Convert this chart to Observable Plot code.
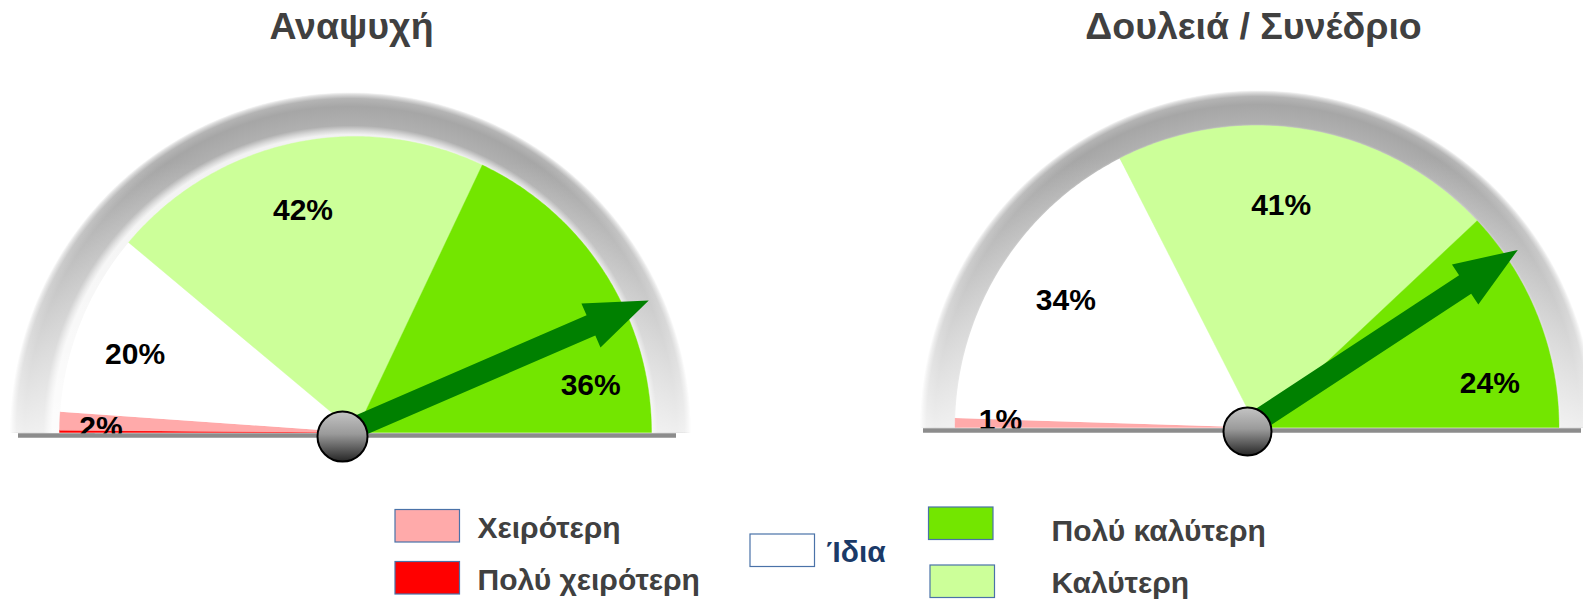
<!DOCTYPE html>
<html><head><meta charset="utf-8">
<script src="https://cdn.jsdelivr.net/npm/d3@7"></script>
<script src="https://cdn.jsdelivr.net/npm/@observablehq/plot@0.6"></script>
<style>html,body{margin:0;padding:0;background:#fff;overflow:hidden}svg{display:block}</style>
</head><body><div id="chart"></div>
<script>
// ---------------- data ----------------
const gaugeTitles = ["Αναψυχή", "Δουλειά / Συνέδριο"];
const categories = ["Πολύ χειρότερη", "Χειρότερη", "Ίδια", "Καλύτερη", "Πολύ καλύτερη"];
const categoryColors = ["#ff0000", "#ffaaaa", "#ffffff", "#ccff99", "#73e600"];
const leisureShares = [0.25, 2, 20, 42, 36];   // Αναψυχή, %
const workShares = [0, 1, 34, 41, 24];         // Δουλειά / Συνέδριο, %
const needlePositions = [87, 81.5];            // arrow position on the dial, % of the half circle
const legendOrder = ["Χειρότερη", "Πολύ χειρότερη", "Ίδια", "Πολύ καλύτερη", "Καλύτερη"];
const sharesByGauge = [leisureShares, workShares];

// ---------------- layout ----------------
const W = 1583, H = 600;
const FONT = "Liberation Sans, Arial, Helvetica, sans-serif";
const gaugeLayout = [
  {cx: 355, cy: 432, r: 296, ringCx: 350, ringR: 340, pivot: [342, 436, 25], base: [18, 676, 435],
   titleX: 351, needleOrigin: [-5, -3], needleLen: 325,
   // [position inside the wedge (0..1), radius fraction]
   labelPlace: [[0.5, 0.8], [0.18, 0.86], [0.43, 0.79], [0.487, 0.77], [0.826, 0.81]]},
  {cx: 1256.5, cy: 427, r: 302, ringCx: 1257, ringR: 337, pivot: [1247, 431, 24], base: [923, 1581, 430],
   titleX: 1253, needleOrigin: [-5, -3], needleLen: 318,
   labelPlace: [[0.5, 0.8], [0.9, 0.85], [0.52, 0.76], [0.45, 0.74], [0.75, 0.785]]}
];
const legendSlots = {
  "Χειρότερη":      {x: 395,   y: 509.5, tx: 477,  ty: 537},
  "Πολύ χειρότερη": {x: 395,   y: 561.5, tx: 477,  ty: 589},
  "Ίδια":           {x: 750,   y: 534,   tx: 826,  ty: 561, textColor: "#1a3a68"},
  "Πολύ καλύτερη":  {x: 928.5, y: 507,   tx: 1051, ty: 540},
  "Καλύτερη":       {x: 930,   y: 565,   tx: 1051, ty: 592}
};
const swatchW = 64.5, swatchH = 32.5;

// ---------------- geometry helpers ----------------
function arcPoint(cx, cy, r, p) { const t = Math.PI * (1 - p / 100); return [cx + r * Math.cos(t), cy - r * Math.sin(t)]; }
function wedgePts(cx, cy, r, p0, p1) {
  const pts = [[cx, cy]];
  const n = Math.max(2, Math.ceil((p1 - p0) * 3));
  for (let i = 0; i <= n; i++) pts.push(arcPoint(cx, cy, r, p0 + (p1 - p0) * i / n));
  pts.push([cx, cy]);
  return pts;
}
function arrowPts(g, v) {
  const t = Math.PI * (1 - v / 100);
  const ux = Math.cos(t), uy = -Math.sin(t), px = -uy, py = ux;
  const ox = g.cx + g.needleOrigin[0], oy = g.cy + g.needleOrigin[1];
  const L = g.needleLen, hl = 63, hw = 24, sw = 11;
  const P = (a, b) => [ox + ux * a + px * b, oy + uy * a + py * b];
  return [P(0, -sw), P(L - hl, -sw), P(L - hl, -hw), P(L, 0), P(L - hl, hw), P(L - hl, sw), P(0, sw), P(0, -sw)];
}
const polygon = (pts, opts) => Plot.line(pts, {x: d => d[0], y: d => d[1], curve: "linear", stroke: "none", ...opts});

// ---------------- marks ----------------
const marks = [];
gaugeLayout.forEach((g, gi) => {
  const shares = sharesByGauge[gi];
  const total = d3.sum(shares);
  // bezel ring
  const ring = wedgePts(g.ringCx, g.cy, g.ringR, 0, 100);
  marks.push(polygon(ring, {fill: `url(#ringGrad${gi})`}));
  marks.push(polygon(ring, {fill: `url(#ringFade${gi})`}));
  // wedges
  let cum = 0;
  const labels = [];
  shares.forEach((v, ci) => {
    const p0 = cum / total * 100, p1 = (cum + v) / total * 100;
    cum += v;
    if (v <= 0) return;
    marks.push(polygon(wedgePts(g.cx, g.cy, g.r, p0, p1), {fill: categoryColors[ci], stroke: categoryColors[ci] === "#ffffff" ? "none" : categoryColors[ci], strokeWidth: 0.4}));
    if (v >= 1) {
      const [f, rf] = g.labelPlace[ci];
      const [lx, ly] = arcPoint(g.cx, g.cy, g.r * rf, p0 + (p1 - p0) * f);
      labels.push({x: lx, y: ly, text: `${v}%`});
    }
  });
  marks.push(Plot.text(labels, {x: "x", y: "y", text: "text", fontSize: 30, fontWeight: "bold", fontFamily: FONT, fill: "#000", lineAnchor: "middle"}));
  // baseline
  marks.push(Plot.ruleY([g.base[2]], {x1: g.base[0], x2: g.base[1], stroke: "#8c8c8c", strokeWidth: 4.6}));
  // needle
  marks.push(polygon(arrowPts(g, needlePositions[gi]), {fill: "#008000"}));
  // pivot
  marks.push(Plot.dot([g.pivot], {x: d => d[0], y: d => d[1], r: g.pivot[2], fill: "url(#pivotGrad)", stroke: "#000", strokeWidth: 2}));
  // title
  marks.push(Plot.text([gaugeTitles[gi]], {x: g.titleX, y: 38, text: d => d, fontSize: 37.5, fontWeight: "bold", fontFamily: FONT, fill: "#404040", lineAnchor: "bottom"}));
});
// legend
const legendData = legendOrder.map(name => ({name, color: categoryColors[categories.indexOf(name)], ...legendSlots[name]}));
marks.push(Plot.rect(legendData, {x1: "x", x2: d => d.x + swatchW, y1: "y", y2: d => d.y + swatchH, fill: "color", stroke: "#4a72a8", strokeWidth: 1.2}));
marks.push(Plot.text(legendData, {x: "tx", y: "ty", text: "name", textAnchor: "start", lineAnchor: "bottom", fontSize: 30, fontWeight: "bold", fontFamily: FONT, fill: d => d.textColor || "#404040"}));

const chart = Plot.plot({
  width: W, height: H, margin: 0,
  x: {domain: [0, W], range: [0, W], axis: null},
  y: {domain: [0, H], range: [0, H], axis: null},
  color: {type: "identity"},
  style: {background: "#fff", overflow: "hidden"},
  marks
});

// gradients
const defs = [];
gaugeLayout.forEach((g, gi) => {
  const R = g.ringR;
  const o = r => Math.max(0, r / R).toFixed(4);
  defs.push(`<radialGradient id="ringGrad${gi}" gradientUnits="userSpaceOnUse" cx="${g.ringCx}" cy="${g.cy}" r="${R}">
    <stop offset="0" stop-color="#f4f4f4"/>
    <stop offset="${o(R - 42)}" stop-color="#f2f2f2"/>
    <stop offset="${o(R - 38)}" stop-color="#d8d8d8"/>
    <stop offset="${o(R - 33)}" stop-color="#b0b0b0"/>
    <stop offset="${o(R - 14)}" stop-color="#a6a6a6"/>
    <stop offset="${o(R - 6)}" stop-color="#b4b4b4"/>
    <stop offset="${o(R - 2)}" stop-color="#dcdcdc"/>
    <stop offset="1" stop-color="#f8f8f8"/>
  </radialGradient>
  <linearGradient id="ringFade${gi}" gradientUnits="userSpaceOnUse" x1="0" y1="${g.cy - 270}" x2="0" y2="${g.cy}">
    <stop offset="0" stop-color="#fff" stop-opacity="0"/>
    <stop offset="0.55" stop-color="#fff" stop-opacity="0.45"/>
    <stop offset="1" stop-color="#fff" stop-opacity="0.82"/>
  </linearGradient>`);
});
defs.push(`<linearGradient id="pivotGrad" x1="0" y1="0" x2="0" y2="1">
  <stop offset="0" stop-color="#c4c4c4"/><stop offset="0.45" stop-color="#9a9a9a"/><stop offset="1" stop-color="#262626"/>
</linearGradient>`);
d3.select(chart).insert("defs", ":first-child").html(defs.join(""));
document.getElementById("chart").appendChild(chart);
</script></body></html>
